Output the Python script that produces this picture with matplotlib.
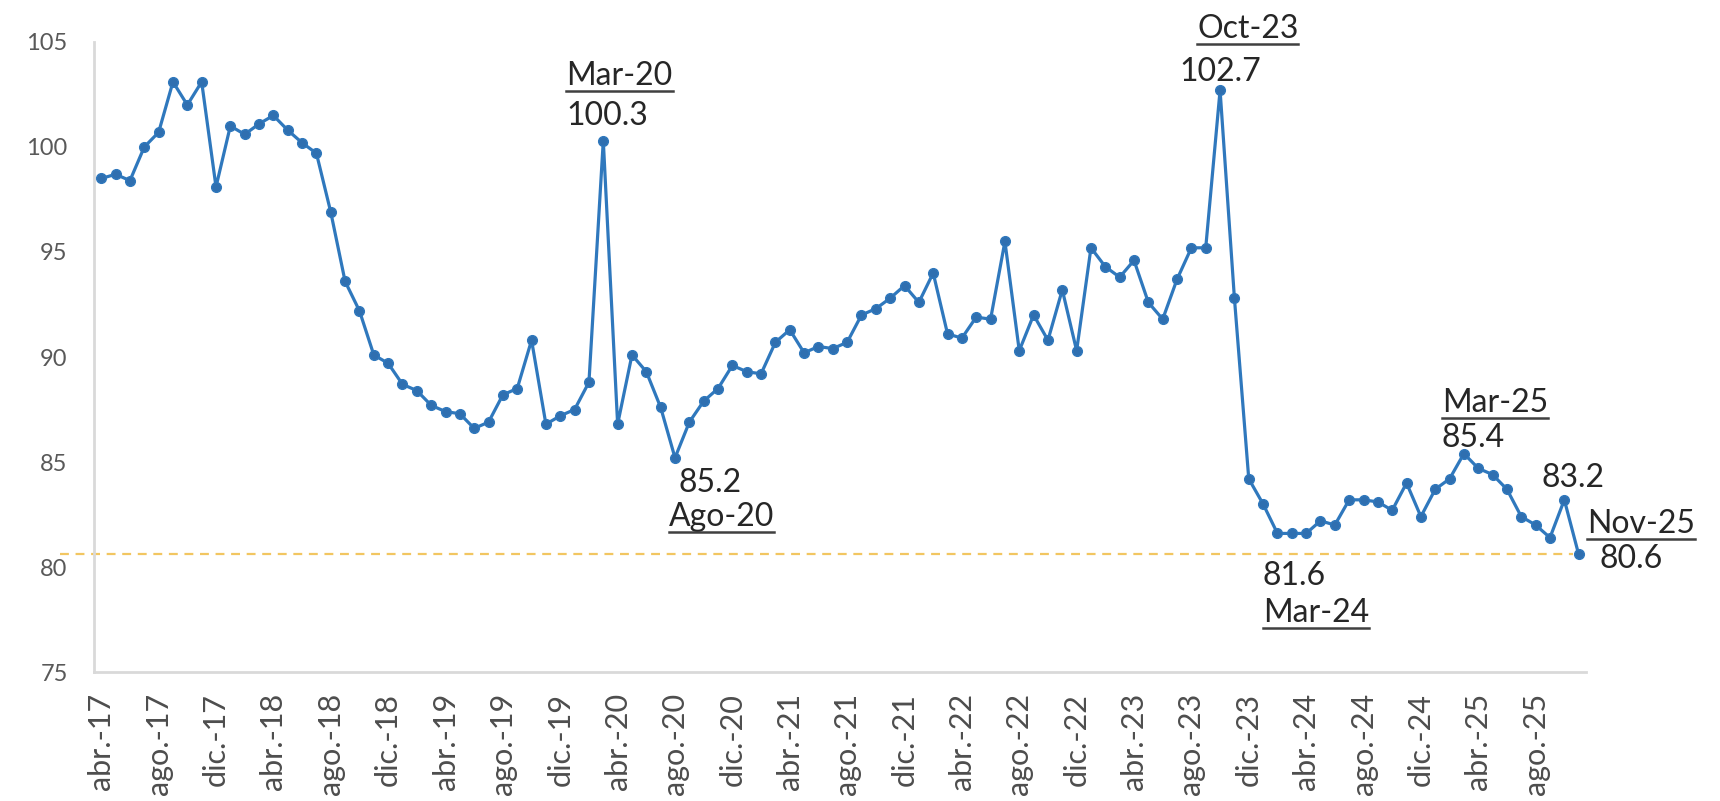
import matplotlib
matplotlib.use("Agg")
import matplotlib.pyplot as plt
from matplotlib.lines import Line2D

plt.rcParams['font.family'] = ['Lato', 'DejaVu Sans']

# monthly index, abr.-17 .. nov.-25
values = [
    98.5, 98.7, 98.4, 100.0, 100.7, 103.1, 102.0, 103.1, 98.1, 101.0, 100.6, 101.1,
    101.5, 100.8, 100.2, 99.7, 96.9, 93.6, 92.2, 90.1, 89.7, 88.7, 88.4, 87.7,
    87.4, 87.3, 86.6, 86.9, 88.2, 88.5, 90.8, 86.8, 87.2, 87.5, 88.8, 100.3,
    86.8, 90.1, 89.3, 87.6, 85.2, 86.9, 87.9, 88.5, 89.6, 89.3, 89.2, 90.7,
    91.3, 90.2, 90.5, 90.4, 90.7, 92.0, 92.3, 92.8, 93.4, 92.6, 94.0, 91.1,
    90.9, 91.9, 91.8, 95.5, 90.3, 92.0, 90.8, 93.2, 90.3, 95.2, 94.3, 93.8,
    94.6, 92.6, 91.8, 93.7, 95.2, 95.2, 102.7, 92.8, 84.2, 83.0, 81.6, 81.6,
    81.6, 82.2, 82.0, 83.2, 83.2, 83.1, 82.7, 84.0, 82.4, 83.7, 84.2, 85.4,
    84.7, 84.4, 83.7, 82.4, 82.0, 81.4, 83.2, 80.6,
]
months = ['ene.', 'feb.', 'mar.', 'abr.', 'may.', 'jun.', 'jul.', 'ago.',
          'sep.', 'oct.', 'nov.', 'dic.']
start_month = 3   # abr.
start_year = 17
tick_step = 4
ref_value = 80.6

# index, text, dx, dy (pixels, to baseline), underline
notes = [
    (35, 'Mar-20', -37, 56, True),
    (35, '100.3', -37, 16, False),
    (78, 'Oct-23', -23, 52, True),
    (78, '102.7', -41, 9, False),
    (40, '85.2', 3, -34, False),
    (40, 'Ago-20', -6, -68, True),
    (83, '81.6', -29, -52, False),
    (83, 'Mar-24', -29, -89, True),
    (95, 'Mar-25', -22, 42, True),
    (95, '85.4', -22, 7, False),
    (102, '83.2', -23, 13, False),
    (103, 'Nov-25', 8, 21, True),
    (103, '80.6', 21, -14, False),
]

labels = []
for i in range(len(values)):
    m = (start_month + i) % 12
    y = start_year + (start_month + i) // 12
    labels.append('%s-%02d' % (months[m], y))

x = list(range(len(values)))

fig = plt.figure(figsize=(17.2, 8.01), dpi=100)
ax = fig.add_axes([0.0547, 0.161, 0.8673, 0.7866])

# reference line at the last value
ax.plot([-2.85, 102.6], [ref_value, ref_value], color='#F2C661', lw=1.6,
        ls=(0, (4, 3)), clip_on=False, zorder=1)

ax.plot(x, values, color='#2F78BD', lw=2.3, marker='o', markersize=7,
        markerfacecolor='#2F6FB0', markeredgecolor='#2F78BD', zorder=3)

ax.set_xlim(-0.5, len(values) - 0.5)
ax.set_ylim(75, 105)
ax.set_yticks([75, 80, 85, 90, 95, 100, 105])
ax.set_xticks(x[::tick_step])
ax.set_xticklabels(labels[::tick_step], rotation=90, va='top')

ax.tick_params(axis='x', length=0, pad=15, labelsize=22, colors='#4d4d4d')
ax.tick_params(axis='y', length=0, pad=19, labelsize=17, colors='#595959')

for side in ['top', 'right']:
    ax.spines[side].set_visible(False)
for side in ['left', 'bottom']:
    ax.spines[side].set_color('#D9D9D9')
    ax.spines[side].set_linewidth(2)

texts = []
for idx, txt, dx, dy, under in notes:
    t = ax.annotate(txt, xy=(idx, values[idx]), xytext=(dx, dy),
                    textcoords='offset pixels', ha='left', va='baseline',
                    fontsize=23, color='#262626', annotation_clip=False)
    texts.append((t, idx, dx, dy, under))

# underline the month labels
fig.canvas.draw()
renderer = fig.canvas.get_renderer()
inv = fig.transFigure.inverted()
for t, idx, dx, dy, under in texts:
    if not under:
        continue
    bb = t.get_window_extent(renderer)
    px, py = ax.transData.transform((idx, values[idx]))
    yb = py + dy - 6
    p0 = inv.transform((bb.x0, yb))
    p1 = inv.transform((bb.x1, yb))
    fig.add_artist(Line2D([p0[0], p1[0]], [p0[1], p1[1]], color='#404040',
                          lw=1.8, transform=fig.transFigure))

fig.savefig('out.png', dpi=100)
